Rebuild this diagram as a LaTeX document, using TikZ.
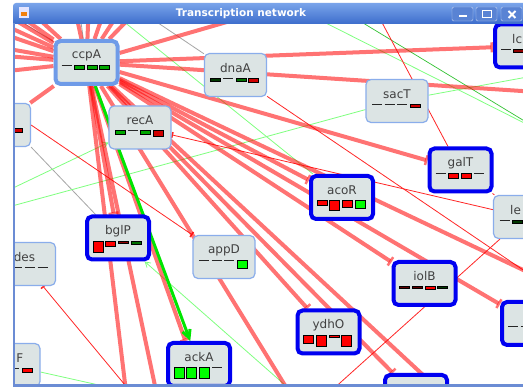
\documentclass[tikz,border=0pt]{standalone}
\usepackage{fontspec}
\setsansfont{DejaVu Sans}
\usetikzlibrary{arrows.meta,calc}
\pgfdeclarelayer{wires}
\pgfsetlayers{wires,main}

\definecolor{nodefill}{HTML}{DCE4E4}
\definecolor{thinblue}{HTML}{8AADEB}
\definecolor{ccpblue}{HTML}{6F9BE8}
\definecolor{hubblue}{HTML}{0000F0}
\definecolor{titletop}{HTML}{7AA4EA}
\definecolor{titlebot}{HTML}{3C6DCC}
\definecolor{framecol}{HTML}{6B8CD4}
\definecolor{gA}{HTML}{00FF00}
\definecolor{gB}{HTML}{00A800}
\definecolor{gC}{HTML}{007000}
\definecolor{gD}{HTML}{003800}
\definecolor{rA}{HTML}{FF0000}
\definecolor{rB}{HTML}{D00000}
\definecolor{rC}{HTML}{900000}
\definecolor{rD}{HTML}{600000}

% expression bars under a gene name: height/colour, 0 = dash
\newcommand\genebars[2]{%
  \foreach \h/\c [count=\k from 0] in {#2}{
    \ifnum\h=0
      \draw[line width=.9pt, black!85] ($(#1.center)+(-25+12.7*\k,3)$) -- ++(10,0);
    \else
      \draw[line width=.6pt, fill=\c] ($(#1.center)+(-25+12.7*\k,3)$) rectangle ++(10,\h);
    \fi
  }}

\begin{document}
\begin{tikzpicture}[x=1pt,y=-1pt,
  gene/.style={draw=thinblue, fill=nodefill, line width=1.2pt, rounded corners=5pt,
    minimum width=62pt, minimum height=43pt, inner sep=0pt},
  hub/.style={gene, draw=hubblue, line width=4pt},
  genename/.style={font=\sffamily\fontsize{12}{14}\selectfont, text=black!75, inner sep=0pt},
  rep/.style={draw=red, draw opacity=.55, line width=4pt},
  repT/.style={rep, -{Bar[width=10pt,line width=2.5pt]}},
  repthin/.style={draw=red!85, line width=.8pt},
  repthinT/.style={repthin, -{Bar[width=6pt,line width=1.5pt]}},
  act/.style={draw=green!50, line width=.8pt},
  actT/.style={act, -{Straight Barb[length=5pt,width=6pt]}},
  actdark/.style={draw=green!70!black!80!white, line width=.7pt},
  actthick/.style={draw=gA!90!black, line width=3pt,
    -{Straight Barb[length=8pt,width=8pt]}},
  inert/.style={draw=gray!70, line width=.8pt}]
\useasboundingbox (0,0) rectangle (523,387);

% genes
\begin{scope}
  \clip (15,23) rectangle (523,384);
  \node[hub, draw=ccpblue] (ccpA) at (86.5,62.5) {};
  \node[gene] (recA) at (140,127.5) {};
  \node[gene] (dnaA) at (235.5,75) {};
  \node[gene] (sacT) at (397,101) {};
  \node[hub] (galT) at (460.5,170) {};
  \node[hub] (lc) at (526,46) {};
  \node[gene] (westnode) at (-0.5,125) {};
  \node[hub] (acoR) at (342,197.5) {};
  \node[gene] (le) at (524.5,217) {};
  \node[hub] (bglP) at (118,238) {};
  \node[gene] (des) at (24.5,264) {};
  \node[gene] (appD) at (224,257) {};
  \node[hub] (iolB) at (424.5,283.5) {};
  \node[hub] (eastnode) at (533,323.5) {};
  \node[hub] (ydhO) at (328.5,332) {};
  \node[hub] (ackA) at (199,364.5) {};
  \node[gene] (fnode) at (9,365) {};
  \node[hub] (southnode) at (416,396.5) {};

  \foreach \n in {ccpA,recA,dnaA,sacT,galT,acoR,bglP,des,appD,iolB,ydhO,ackA}
    \node[genename] (\n-t) at ($(\n.center)+(0,-7)$) {\n};
  \node[genename, anchor=west] (lc-t) at ($(lc.center)+(-14,-7)$) {lc};
  \node[genename, anchor=west] (le-t) at ($(le.center)+(-14.5,-7)$) {le};
  \node[genename, anchor=east] (fnode-t) at ($(fnode.center)+(14.5,-7)$) {F};

  \genebars{ccpA}{0/none,4/gB,4/gB,4/gB}
  \genebars{recA}{4/gB,0/none,4/gB,6/rB}
  \genebars{dnaA}{3/gD,0/none,3/gC,4/rB}
  \genebars{sacT}{0/none,0/none,0/none,3/rB}
  \genebars{galT}{0/none,5/rA,5/rA,0/none}
  \genebars{acoR}{5/rA,10/rA,7/rA,8/gA}
  \genebars{bglP}{11/rA,5/rA,2/rC,3/gC}
  \genebars{appD}{0/none,0/none,0/none,8/gA}
  \genebars{iolB}{2/rD,2/rD,3/rA,2/gD}
  \genebars{ydhO}{8/rA,11/rA,2/rA,11/rA}
  \genebars{ackA}{11/gA,11/gA,11/gA,0/none}
  \genebars{des}{0/none,0/none,0/none,0/none}
  \genebars{westnode}{0/none,0/none,0/none,4/rB}
  \genebars{fnode}{0/none,0/none,0/none,4/rA}
  \genebars{lc}{0/none,3/rC}
  \genebars{le}{0/none,3/gD}
  \genebars{eastnode}{0/none,0/none}
\end{scope}

% regulations
\begin{pgfonlayer}{wires}
  \fill[white] (0,0) rectangle (523,387);
  \clip (15,23) rectangle (523,384);
  \foreach \x/\y [count=\i] in {-20/14,-20/26,-20/44,-20/54,-20/74}
    \coordinate (lf\i) at (\x,\y);
  \foreach \x/\y [count=\i] in {-19/0,-3/0,18/0,73/0,89/0,108/0,127/0,147/0,303/0}
    \coordinate (tf\i) at (\x,\y);
  \foreach \x/\y [count=\i] in {127/400,158/400,294/400,450/400,137.5/400,321/400,302/400}
    \coordinate (bt\i) at (\x,\y);
  \foreach \x/\y [count=\i] in {560/93.5,560/287.5,560/295,560/71,560/141,560/142.6}
    \coordinate (rt\i) at (\x,\y);
  \coordinate (lf6) at (-10,212);
  \coordinate (lf7) at (-10,199);
  \coordinate (tp1) at (370,0);
  \coordinate (tp2) at (97,0);
  \coordinate (tp3) at (300,10);
  \coordinate (tp4) at (345,12);
  \coordinate (tp5) at (-13,0);
  \coordinate (tp6) at (124,0);
  \coordinate (tp7) at (78,0);
  \coordinate (fend) at (130,392);

  \draw[inert] (tp5) -- (ccpA);
  \draw[inert] (tp6) -- (dnaA);
  \draw[inert] (ccpA) -- (tp7);
  \draw[inert] (westnode.south east) -- (bglP);

  \draw[act] (tp2) -- (acoR);
  \draw[act] (sacT) -- (lf6);
  \draw[actT] (lf7) -- (recA);
  \draw[act] (rt4) -- (sacT);
  \draw[act] (tp3) -- (rt5);
  \draw[actdark] (tp4) -- (rt6);
  \draw[actT] (bt7) -- (bglP);
  \draw[act] (fnode) -- (fend);

  \draw[repthinT] (le) -- (recA);
  \draw[repthin] (le) -- (bt6);
  \draw[repthinT] (bt5) -- (des);
  \draw[repthinT] (westnode.east) -- (appD.north west);
  \draw[repthin] (dnaA) -- (rt3);
  \draw[repthin] (tp1) -- (galT);
  \draw[repthin] (galT) -- (le);

  \foreach \i in {1,...,5} \draw[rep] (ccpA) -- (lf\i);
  \foreach \i in {1,...,9} \draw[rep] (ccpA) -- (tf\i);
  \foreach \i in {1,...,4} \draw[rep] (ccpA) -- (bt\i);
  \foreach \i in {1,2} \draw[rep] (ccpA) -- (rt\i);
  \draw[rep] (ccpA) -- (westnode);
  \foreach \t in {lc,galT,acoR,iolB,eastnode,ydhO,southnode,bglP}
    \draw[repT] (ccpA) -- (\t);
  \draw[repT] (ccpA) -- (ackA.120);
  \draw[actthick] (ccpA) -- (ackA);
\end{pgfonlayer}

% window frame
\shade[top color=titletop, bottom color=titlebot]
  (13,24) [rounded corners=3pt] -- (13,3) [sharp corners] -- (530,3) -- (530,24) -- cycle;
\node[font=\sffamily\bfseries\fontsize{10.5}{12}\selectfont, text=white] (title) at (241,13.5) {Transcription network};
\fill[framecol] (13,23) rectangle (15,387);
\fill[framecol] (13,384) rectangle (523,387);
\fill[white!75!blue!40] (19,7) rectangle (29,18);
\fill[orange!80!brown] (21,12) rectangle (27,16);
\foreach \bx in {452,476,501}
  \draw[white!70!titlebot, fill=titlebot!85!white, rounded corners=1.5pt] (\bx,7) rectangle ++(21,14);
\fill[white] (459,15.5) rectangle (467,17.5);
\draw[white, line width=1.2pt] (482.5,10.5) rectangle (491.5,17.5);
\draw[white, line width=1.8pt] (508.5,11) -- (515.5,18) (508.5,18) -- (515.5,11);
\end{tikzpicture}
\end{document}
